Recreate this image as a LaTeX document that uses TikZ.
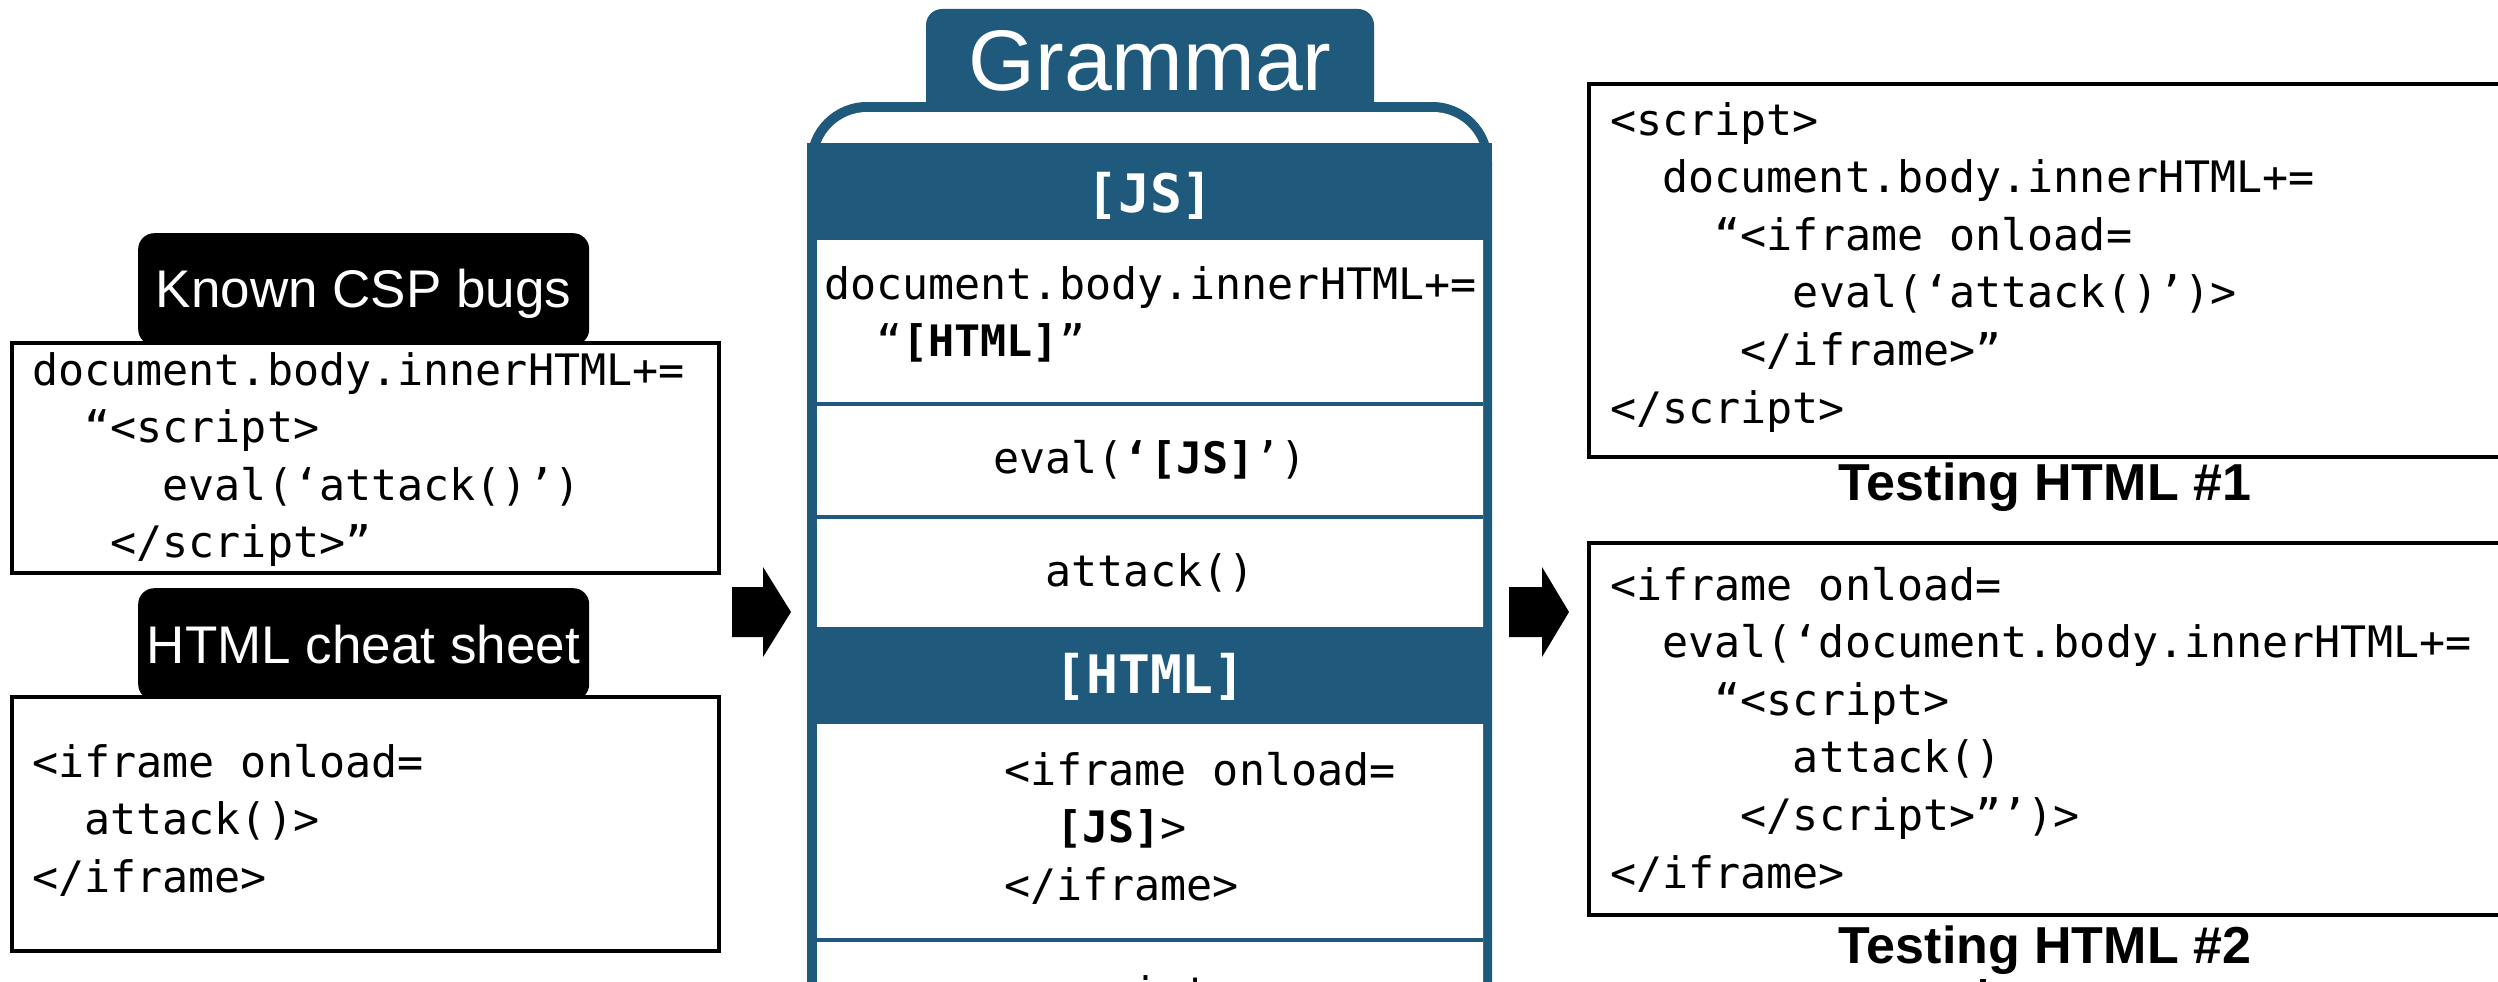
\documentclass[tikz,border=0pt]{standalone}
\usepackage{fontspec}
\newfontfamily\codefont{DejaVu Sans Mono}
\newfontfamily\labelfont{Liberation Sans}
\definecolor{gramblue}{RGB}{31,89,124}
\tikzset{
  codebox/.style={draw=black, line width=4pt, fill=white, inner sep=0pt, anchor=north west},
  tabbox/.style={fill=black, rounded corners=16pt, inner sep=0pt},
  tabtext/.style={text=white, font=\labelfont\fontsize{53}{60}\selectfont, inner sep=0pt, anchor=base},
  % multi-line code: the base anchor sits on the baseline of the last line
  code/.style={font=\codefont\fontsize{43.35}{57.6}\selectfont, align=left, inner sep=0pt, anchor=base west},
  cellcode/.style={font=\codefont\fontsize{43.35}{57.6}\selectfont, inner sep=0pt},
  hdr/.style={text=white, font=\codefont\bfseries\fontsize{53}{60}\selectfont, inner sep=0pt},
  caption/.style={font=\labelfont\bfseries\fontsize{52}{60}\selectfont, inner sep=0pt, anchor=base},
  sepline/.style={draw=gramblue, line width=4pt},
}
\begin{document}
\begin{tikzpicture}[x=1pt,y=-1pt]
\useasboundingbox (0,0) rectangle (2498,982);
\clip (0,0) rectangle (2498,982);

% ---------- left column: sources ----------
\node[tabbox, minimum width=451pt, minimum height=112pt, anchor=north west] (tabcsp) at (138,233) {};
\node[tabbox, minimum width=451pt, minimum height=112pt, anchor=north west] (tabcheat) at (138,588) {};
\node[codebox, minimum width=707pt, minimum height=230pt] (known) at (10,341) {};
\node[codebox, minimum width=707pt, minimum height=254pt] (cheat) at (10,694.5) {};
\node[tabtext] (tabcsptext) at (363.5,307) {Known CSP bugs};
\node[tabtext] (tabcheattext) at (363.5,663) {HTML cheat sheet};

\node[code] (knowncode) at (32,557.8) {document.body.innerHTML+=\\
\phantom{xx}“<script>\\
\phantom{xxxxx}eval(‘attack()’)\\
\phantom{xxx}</script>”};

\node[code] (cheatcode) at (32,892.2) {<iframe onload=\\
\phantom{xx}attack()>\\
</iframe>};

% ---------- block arrows ----------
\fill[black] (732,587) -- (763,587) -- (763,567) -- (791,612) -- (763,657)
  -- (763,637) -- (732,637) -- cycle;
\fill[black] (1509,587) -- (1542,587) -- (1542,567) -- (1569,612) -- (1542,657)
  -- (1542,637) -- (1509,637) -- cycle;

% ---------- grammar panel ----------
\fill[gramblue] (926,120) [rounded corners=16pt] -- (926,9) -- (1374,9)
  [sharp corners] -- (1374,120) -- cycle;
\fill[gramblue, rounded corners=60pt] (807,102) rectangle (1492,1150);
\fill[white, rounded corners=50pt] (817,112) rectangle (1483,1140);
\fill[gramblue] (807,143) rectangle (1492,240);
\fill[gramblue] (807,627) rectangle (1492,724);
\draw[sepline] (817,404) -- (1483,404);
\draw[sepline] (817,517) -- (1483,517);
\draw[sepline] (817,940) -- (1483,940);

\node[text=white, font=\labelfont\fontsize{86}{100}\selectfont, inner sep=0pt, anchor=base]
  (gramtitle) at (1150,90) {Grammar};
\node[hdr] (jshdr) at (1150,196) {[JS]};
\node[hdr] (htmlhdr) at (1150,677) {[HTML]};

\node[code] (jsrule1) at (824,356.6) {document.body.innerHTML+=\\
\phantom{xx}“{\bfseries [HTML]}”};
\node[cellcode] (jsrule2) at (1150,460) {eval({\bfseries ‘[JS]}’)};
\node[cellcode] (jsrule3) at (1150,573) {attack()};
\node[code] (htmlrule1) at (1004,900.2) {<iframe onload=\\
\phantom{xx}{\bfseries [JS]}>\\
</iframe>};
\node[code] (htmlrule2) at (1028,1008) {<script>};

% ---------- right column: generated tests ----------
\node[codebox, minimum width=933pt, minimum height=373pt] (test1) at (1587,82) {};
\node[codebox, minimum width=933pt, minimum height=372pt] (test2) at (1587,541) {};

\node[code] (test1code) at (1610,423) {<script>\\
\phantom{xx}document.body.innerHTML+=\\
\phantom{xxxx}“<iframe onload=\\
\phantom{xxxxxxx}eval(‘attack()’)>\\
\phantom{xxxxx}</iframe>”\\
</script>};

\node[code] (test2code) at (1610,888) {<iframe onload=\\
\phantom{xx}eval(‘document.body.innerHTML+=\\
\phantom{xxxx}“<script>\\
\phantom{xxxxxxx}attack()\\
\phantom{xxxxx}</script>”’)>\\
</iframe>};

\node[caption] (test1cap) at (2045,500) {Testing HTML \#1};
\node[caption] (test2cap) at (2045,963) {Testing HTML \#2};
\fill[black] (1980,979) rectangle (1986,982);
\end{tikzpicture}
\end{document}
